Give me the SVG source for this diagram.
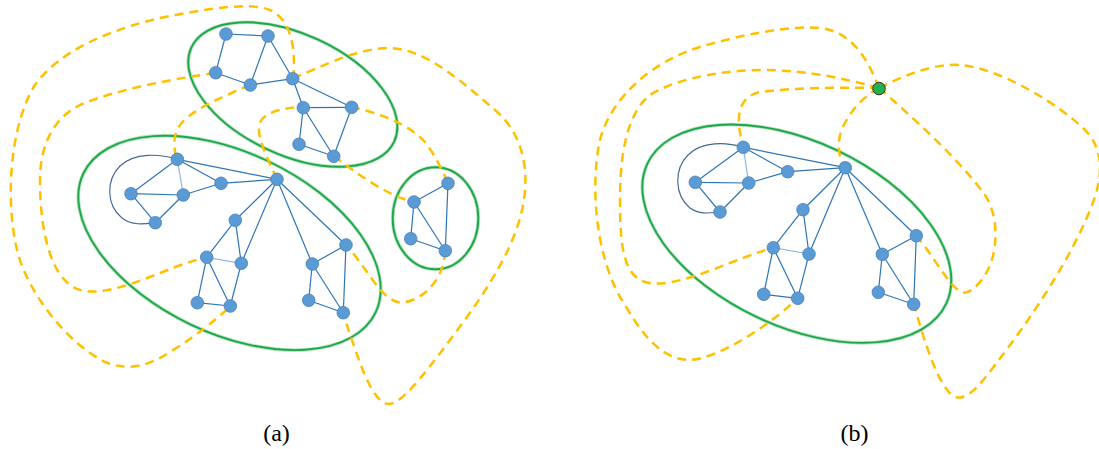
<svg xmlns="http://www.w3.org/2000/svg" width="1099" height="449" viewBox="0 0 1099 449">
  <style>
    .hull-glow { fill: none; stroke: #b5e3c1; stroke-width: 3.6; }
    .hull { fill: none; stroke: #1fa84a; stroke-width: 1.9; }
    .edge { stroke: #2e75b6; stroke-width: 1.2; fill: none; }
    .edge-light { stroke: #8fb8e0; stroke-width: 1.2; fill: none; }
    .loop { stroke: #41698f; stroke-width: 1.1; fill: none; }
    .path { stroke: #ffc000; stroke-width: 2.5; fill: none; stroke-dasharray: 9 6; stroke-linecap: butt; }
    .v { fill: #5b9bd5; stroke: #4a80b8; stroke-width: 0.8; }
    .hub { fill: #22b14c; stroke: #333333; stroke-width: 1; }
    .label { font-family: "Liberation Serif", "DejaVu Serif", serif; font-size: 24px; fill: #000; text-anchor: middle; }
  </style>

  <!-- cluster outlines -->
  <g id="clusters">
    <g id="cluster-a-top" transform="translate(292.8 94.5) rotate(24.9)">
      <ellipse class="hull-glow" rx="111.8" ry="60.4"/>
      <ellipse class="hull" rx="111.8" ry="60.4"/>
    </g>
    <g id="cluster-a-main" transform="translate(229.5 242.9) rotate(25.4)">
      <ellipse class="hull-glow" rx="161.8" ry="90.4"/>
      <ellipse class="hull" rx="161.8" ry="90.4"/>
    </g>
    <g id="cluster-a-small" transform="translate(435.5 218.3)">
      <ellipse class="hull-glow" rx="42.8" ry="51"/>
      <ellipse class="hull" rx="42.8" ry="51"/>
    </g>
    <g id="cluster-b-main" transform="translate(796.8 233.7) rotate(25.1)">
      <ellipse class="hull-glow" rx="165" ry="92.5"/>
      <ellipse class="hull" rx="165" ry="92.5"/>
    </g>
  </g>

  <g id="connectors">
    <!-- graph edges, panel (a) top cluster -->
    <g id="edges-a-top">
      <line class="edge" x1="226" y1="34" x2="268" y2="36"/>
      <line class="edge" x1="226" y1="34" x2="215.7" y2="72.7"/>
      <line class="edge" x1="268" y1="36" x2="250.3" y2="85"/>
      <line class="edge" x1="268" y1="36" x2="292.7" y2="78.7"/>
      <line class="edge" x1="215.7" y1="72.7" x2="250.3" y2="85"/>
      <line class="edge" x1="250.3" y1="85" x2="292.7" y2="78.7"/>
      <line class="edge" x1="292.7" y1="78.7" x2="303.3" y2="107.7"/>
      <line class="edge" x1="292.7" y1="78.7" x2="351.7" y2="107.3"/>
      <line class="edge" x1="303.3" y1="107.7" x2="351.7" y2="107.3"/>
      <line class="edge" x1="303.3" y1="107.7" x2="299" y2="144.3"/>
      <line class="edge" x1="303.3" y1="107.7" x2="333.7" y2="156.3"/>
      <line class="edge" x1="351.7" y1="107.3" x2="333.7" y2="156.3"/>
      <line class="edge" x1="299" y1="144.3" x2="333.7" y2="156.3"/>
    </g>
    <!-- panel (a) small cluster -->
    <g id="edges-a-small">
      <line class="edge" x1="448" y1="183.3" x2="414" y2="202"/>
      <line class="edge" x1="448" y1="183.3" x2="445.3" y2="250.7"/>
      <line class="edge" x1="414" y1="202" x2="410.7" y2="238.7"/>
      <line class="edge" x1="414" y1="202" x2="445.3" y2="250.7"/>
      <line class="edge" x1="410.7" y1="238.7" x2="445.3" y2="250.7"/>
    </g>
    <!-- panel (a) main cluster -->
    <g id="edges-a-main">
      <path class="loop" d="M177.3,159.3 C160,154 135,152 120,166 C106,180 106,205 122,218 C132,226 145,224 155.3,222.7"/>
      <line class="edge" x1="177.3" y1="159.3" x2="131" y2="193.7"/>
      <line class="edge-light" x1="177.3" y1="159.3" x2="183.3" y2="195"/>
      <line class="edge" x1="177.3" y1="159.3" x2="221" y2="183.3"/>
      <line class="edge" x1="177.3" y1="159.3" x2="277" y2="179.3"/>
      <line class="edge" x1="131" y1="193.7" x2="183.3" y2="195"/>
      <line class="edge" x1="131" y1="193.7" x2="155.3" y2="222.7"/>
      <line class="edge" x1="183.3" y1="195" x2="155.3" y2="222.7"/>
      <line class="edge" x1="183.3" y1="195" x2="221" y2="183.3"/>
      <line class="edge" x1="221" y1="183.3" x2="277" y2="179.3"/>
      <line class="edge" x1="277" y1="179.3" x2="235.3" y2="220.3"/>
      <line class="edge" x1="277" y1="179.3" x2="241.3" y2="263.3"/>
      <line class="edge" x1="277" y1="179.3" x2="312.3" y2="264"/>
      <line class="edge" x1="277" y1="179.3" x2="346" y2="245"/>
      <line class="edge" x1="235.3" y1="220.3" x2="206.7" y2="257.3"/>
      <line class="edge" x1="235.3" y1="220.3" x2="241.3" y2="263.3"/>
      <line class="edge-light" x1="206.7" y1="257.3" x2="241.3" y2="263.3"/>
      <line class="edge" x1="206.7" y1="257.3" x2="197.3" y2="302.7"/>
      <line class="edge" x1="206.7" y1="257.3" x2="230.3" y2="306"/>
      <line class="edge" x1="241.3" y1="263.3" x2="230.3" y2="306"/>
      <line class="edge" x1="197.3" y1="302.7" x2="230.3" y2="306"/>
      <line class="edge" x1="346" y1="245" x2="312.3" y2="264"/>
      <line class="edge" x1="346" y1="245" x2="343.3" y2="312.7"/>
      <line class="edge" x1="312.3" y1="264" x2="308.7" y2="300.3"/>
      <line class="edge" x1="312.3" y1="264" x2="343.3" y2="312.7"/>
      <line class="edge" x1="308.7" y1="300.3" x2="343.3" y2="312.7"/>
    </g>
    <!-- panel (b) cluster -->
    <g id="edges-b-main">
      <path class="loop" d="M743.3,147.3 C726,142 702,141 688,155 C674,169 674,195 690,208 C700,215 710,213 720,212"/>
      <line class="edge" x1="743.3" y1="147.3" x2="695.3" y2="182.3"/>
      <line class="edge-light" x1="743.3" y1="147.3" x2="748.7" y2="183"/>
      <line class="edge" x1="743.3" y1="147.3" x2="787.7" y2="171.7"/>
      <line class="edge" x1="743.3" y1="147.3" x2="845.3" y2="167.7"/>
      <line class="edge" x1="695.3" y1="182.3" x2="748.7" y2="183"/>
      <line class="edge" x1="695.3" y1="182.3" x2="720" y2="212"/>
      <line class="edge" x1="748.7" y1="183" x2="720" y2="212"/>
      <line class="edge" x1="748.7" y1="183" x2="787.7" y2="171.7"/>
      <line class="edge" x1="787.7" y1="171.7" x2="845.3" y2="167.7"/>
      <line class="edge" x1="845.3" y1="167.7" x2="803" y2="209.7"/>
      <line class="edge" x1="845.3" y1="167.7" x2="809" y2="254"/>
      <line class="edge" x1="845.3" y1="167.7" x2="882.3" y2="254.3"/>
      <line class="edge" x1="845.3" y1="167.7" x2="916.3" y2="235.7"/>
      <line class="edge" x1="803" y1="209.7" x2="773.3" y2="247.7"/>
      <line class="edge" x1="803" y1="209.7" x2="809" y2="254"/>
      <line class="edge-light" x1="773.3" y1="247.7" x2="809" y2="254"/>
      <line class="edge" x1="773.3" y1="247.7" x2="763.7" y2="294.3"/>
      <line class="edge" x1="773.3" y1="247.7" x2="797.7" y2="298.3"/>
      <line class="edge" x1="809" y1="254" x2="797.7" y2="298.3"/>
      <line class="edge" x1="763.7" y1="294.3" x2="797.7" y2="298.3"/>
      <line class="edge" x1="916.3" y1="235.7" x2="882.3" y2="254.3"/>
      <line class="edge" x1="916.3" y1="235.7" x2="913.7" y2="304.3"/>
      <line class="edge" x1="882.3" y1="254.3" x2="878.3" y2="292.3"/>
      <line class="edge" x1="882.3" y1="254.3" x2="913.7" y2="304.3"/>
      <line class="edge" x1="878.3" y1="292.3" x2="913.7" y2="304.3"/>
    </g>

    <!-- dashed routes, panel (a) -->
    <g id="routes-a">
      <path class="path" d="M293,79 C296,50 292,20 270,10 C250,2 210,8 160,18 C110,30 60,50 35,85 C10,125 5,200 17,250 C28,295 70,345 105,362 C130,372 150,365 170,352 C195,337 215,320 230,307"/>
      <path class="path" d="M215,73 C180,78 120,88 80,105 C50,120 40,150 40,180 C40,230 50,275 75,288 C95,298 130,285 160,273 C180,265 195,260 207,257"/>
      <path class="path" d="M250,85 C220,98 185,112 177,130 C172,142 175,152 177,159"/>
      <path class="path" d="M293,78 C320,68 355,48 390,48 C425,49 460,80 495,110 C525,135 530,175 522,210 C512,255 480,300 450,340 C420,380 400,405 388,404 C372,402 360,365 343,313"/>
      <path class="path" d="M351,107 C380,113 410,125 425,142 C435,155 442,170 448,183"/>
      <path class="path" d="M334,156 C355,172 385,195 414,202"/>
      <path class="path" d="M445,251 C444,285 415,305 398,302 C380,298 370,272 346,245"/>
      <path class="path" d="M277,179 C268,160 258,140 259,127 C260,113 280,108 303,107"/>
    </g>
    <!-- dashed routes, panel (b) -->
    <g id="routes-b">
      <path class="path" d="M879,88 C870,65 855,32 820,28 C790,25 740,35 700,47 C650,62 610,100 600,140 C590,185 595,260 625,305 C645,340 665,360 690,360 C720,358 770,325 798,298"/>
      <path class="path" d="M879,88 C850,80 810,70 760,70 C710,71 670,82 650,95 C625,115 620,160 620,200 C620,240 622,275 645,282 C665,288 700,275 730,263 C750,255 765,250 773,248"/>
      <path class="path" d="M879,88 C840,87 790,88 760,92 C742,96 738,110 739,125 C740,135 742,142 743,147"/>
      <path class="path" d="M879,88 C860,98 845,118 840,135 C837,150 840,160 845,168"/>
      <path class="path" d="M879,88 C905,75 935,63 960,65 C1000,68 1060,105 1085,130 C1105,150 1103,180 1090,210 C1070,260 1030,320 995,365 C975,392 965,400 955,397 C940,390 925,345 914,304"/>
      <path class="path" d="M879,88 C910,115 960,160 985,195 C1000,218 998,255 985,275 C975,290 965,297 958,290 C945,280 930,250 916,236"/>
    </g>
  </g>

  <!-- vertices, panel (a) -->
  <g id="a-t1"><circle class="v" cx="226" cy="34" r="6.3"/></g>
  <g id="a-t2"><circle class="v" cx="268" cy="36" r="6.3"/></g>
  <g id="a-t3"><circle class="v" cx="215.7" cy="72.7" r="6.3"/></g>
  <g id="a-t4"><circle class="v" cx="250.3" cy="85" r="6.3"/></g>
  <g id="a-t5"><circle class="v" cx="292.7" cy="78.7" r="6.3"/></g>
  <g id="a-t6"><circle class="v" cx="303.3" cy="107.7" r="6.3"/></g>
  <g id="a-t7"><circle class="v" cx="351.7" cy="107.3" r="6.3"/></g>
  <g id="a-t8"><circle class="v" cx="299" cy="144.3" r="6.3"/></g>
  <g id="a-t9"><circle class="v" cx="333.7" cy="156.3" r="6.3"/></g>

  <g id="a-s1"><circle class="v" cx="448" cy="183.3" r="6.3"/></g>
  <g id="a-s2"><circle class="v" cx="414" cy="202" r="6.3"/></g>
  <g id="a-s3"><circle class="v" cx="410.7" cy="238.7" r="6.3"/></g>
  <g id="a-s4"><circle class="v" cx="445.3" cy="250.7" r="6.3"/></g>

  <g id="a-m1"><circle class="v" cx="177.3" cy="159.3" r="6.3"/></g>
  <g id="a-m2"><circle class="v" cx="131" cy="193.7" r="6.3"/></g>
  <g id="a-m3"><circle class="v" cx="183.3" cy="195" r="6.3"/></g>
  <g id="a-m4"><circle class="v" cx="221" cy="183.3" r="6.3"/></g>
  <g id="a-m5"><circle class="v" cx="277" cy="179.3" r="6.3"/></g>
  <g id="a-m6"><circle class="v" cx="155.3" cy="222.7" r="6.3"/></g>
  <g id="a-m7"><circle class="v" cx="235.3" cy="220.3" r="6.3"/></g>
  <g id="a-m8"><circle class="v" cx="206.7" cy="257.3" r="6.3"/></g>
  <g id="a-m9"><circle class="v" cx="241.3" cy="263.3" r="6.3"/></g>
  <g id="a-m10"><circle class="v" cx="197.3" cy="302.7" r="6.3"/></g>
  <g id="a-m11"><circle class="v" cx="230.3" cy="306" r="6.3"/></g>
  <g id="a-m12"><circle class="v" cx="346" cy="245" r="6.3"/></g>
  <g id="a-m13"><circle class="v" cx="312.3" cy="264" r="6.3"/></g>
  <g id="a-m14"><circle class="v" cx="308.7" cy="300.3" r="6.3"/></g>
  <g id="a-m15"><circle class="v" cx="343.3" cy="312.7" r="6.3"/></g>

  <!-- vertices, panel (b) -->
  <g id="b-m1"><circle class="v" cx="743.3" cy="147.3" r="6.3"/></g>
  <g id="b-m2"><circle class="v" cx="695.3" cy="182.3" r="6.3"/></g>
  <g id="b-m3"><circle class="v" cx="748.7" cy="183" r="6.3"/></g>
  <g id="b-m4"><circle class="v" cx="787.7" cy="171.7" r="6.3"/></g>
  <g id="b-m5"><circle class="v" cx="845.3" cy="167.7" r="6.3"/></g>
  <g id="b-m6"><circle class="v" cx="720" cy="212" r="6.3"/></g>
  <g id="b-m7"><circle class="v" cx="803" cy="209.7" r="6.3"/></g>
  <g id="b-m8"><circle class="v" cx="773.3" cy="247.7" r="6.3"/></g>
  <g id="b-m9"><circle class="v" cx="809" cy="254" r="6.3"/></g>
  <g id="b-m10"><circle class="v" cx="763.7" cy="294.3" r="6.3"/></g>
  <g id="b-m11"><circle class="v" cx="797.7" cy="298.3" r="6.3"/></g>
  <g id="b-m12"><circle class="v" cx="916.3" cy="235.7" r="6.3"/></g>
  <g id="b-m13"><circle class="v" cx="882.3" cy="254.3" r="6.3"/></g>
  <g id="b-m14"><circle class="v" cx="878.3" cy="292.3" r="6.3"/></g>
  <g id="b-m15"><circle class="v" cx="913.7" cy="304.3" r="6.3"/></g>
  <g id="b-contracted"><circle class="hub" cx="879" cy="88.5" r="6.3"/></g>

  <!-- sub-figure captions -->
  <text class="label" x="276.5" y="441">(a)</text>
  <text class="label" x="854.5" y="441">(b)</text>
</svg>
